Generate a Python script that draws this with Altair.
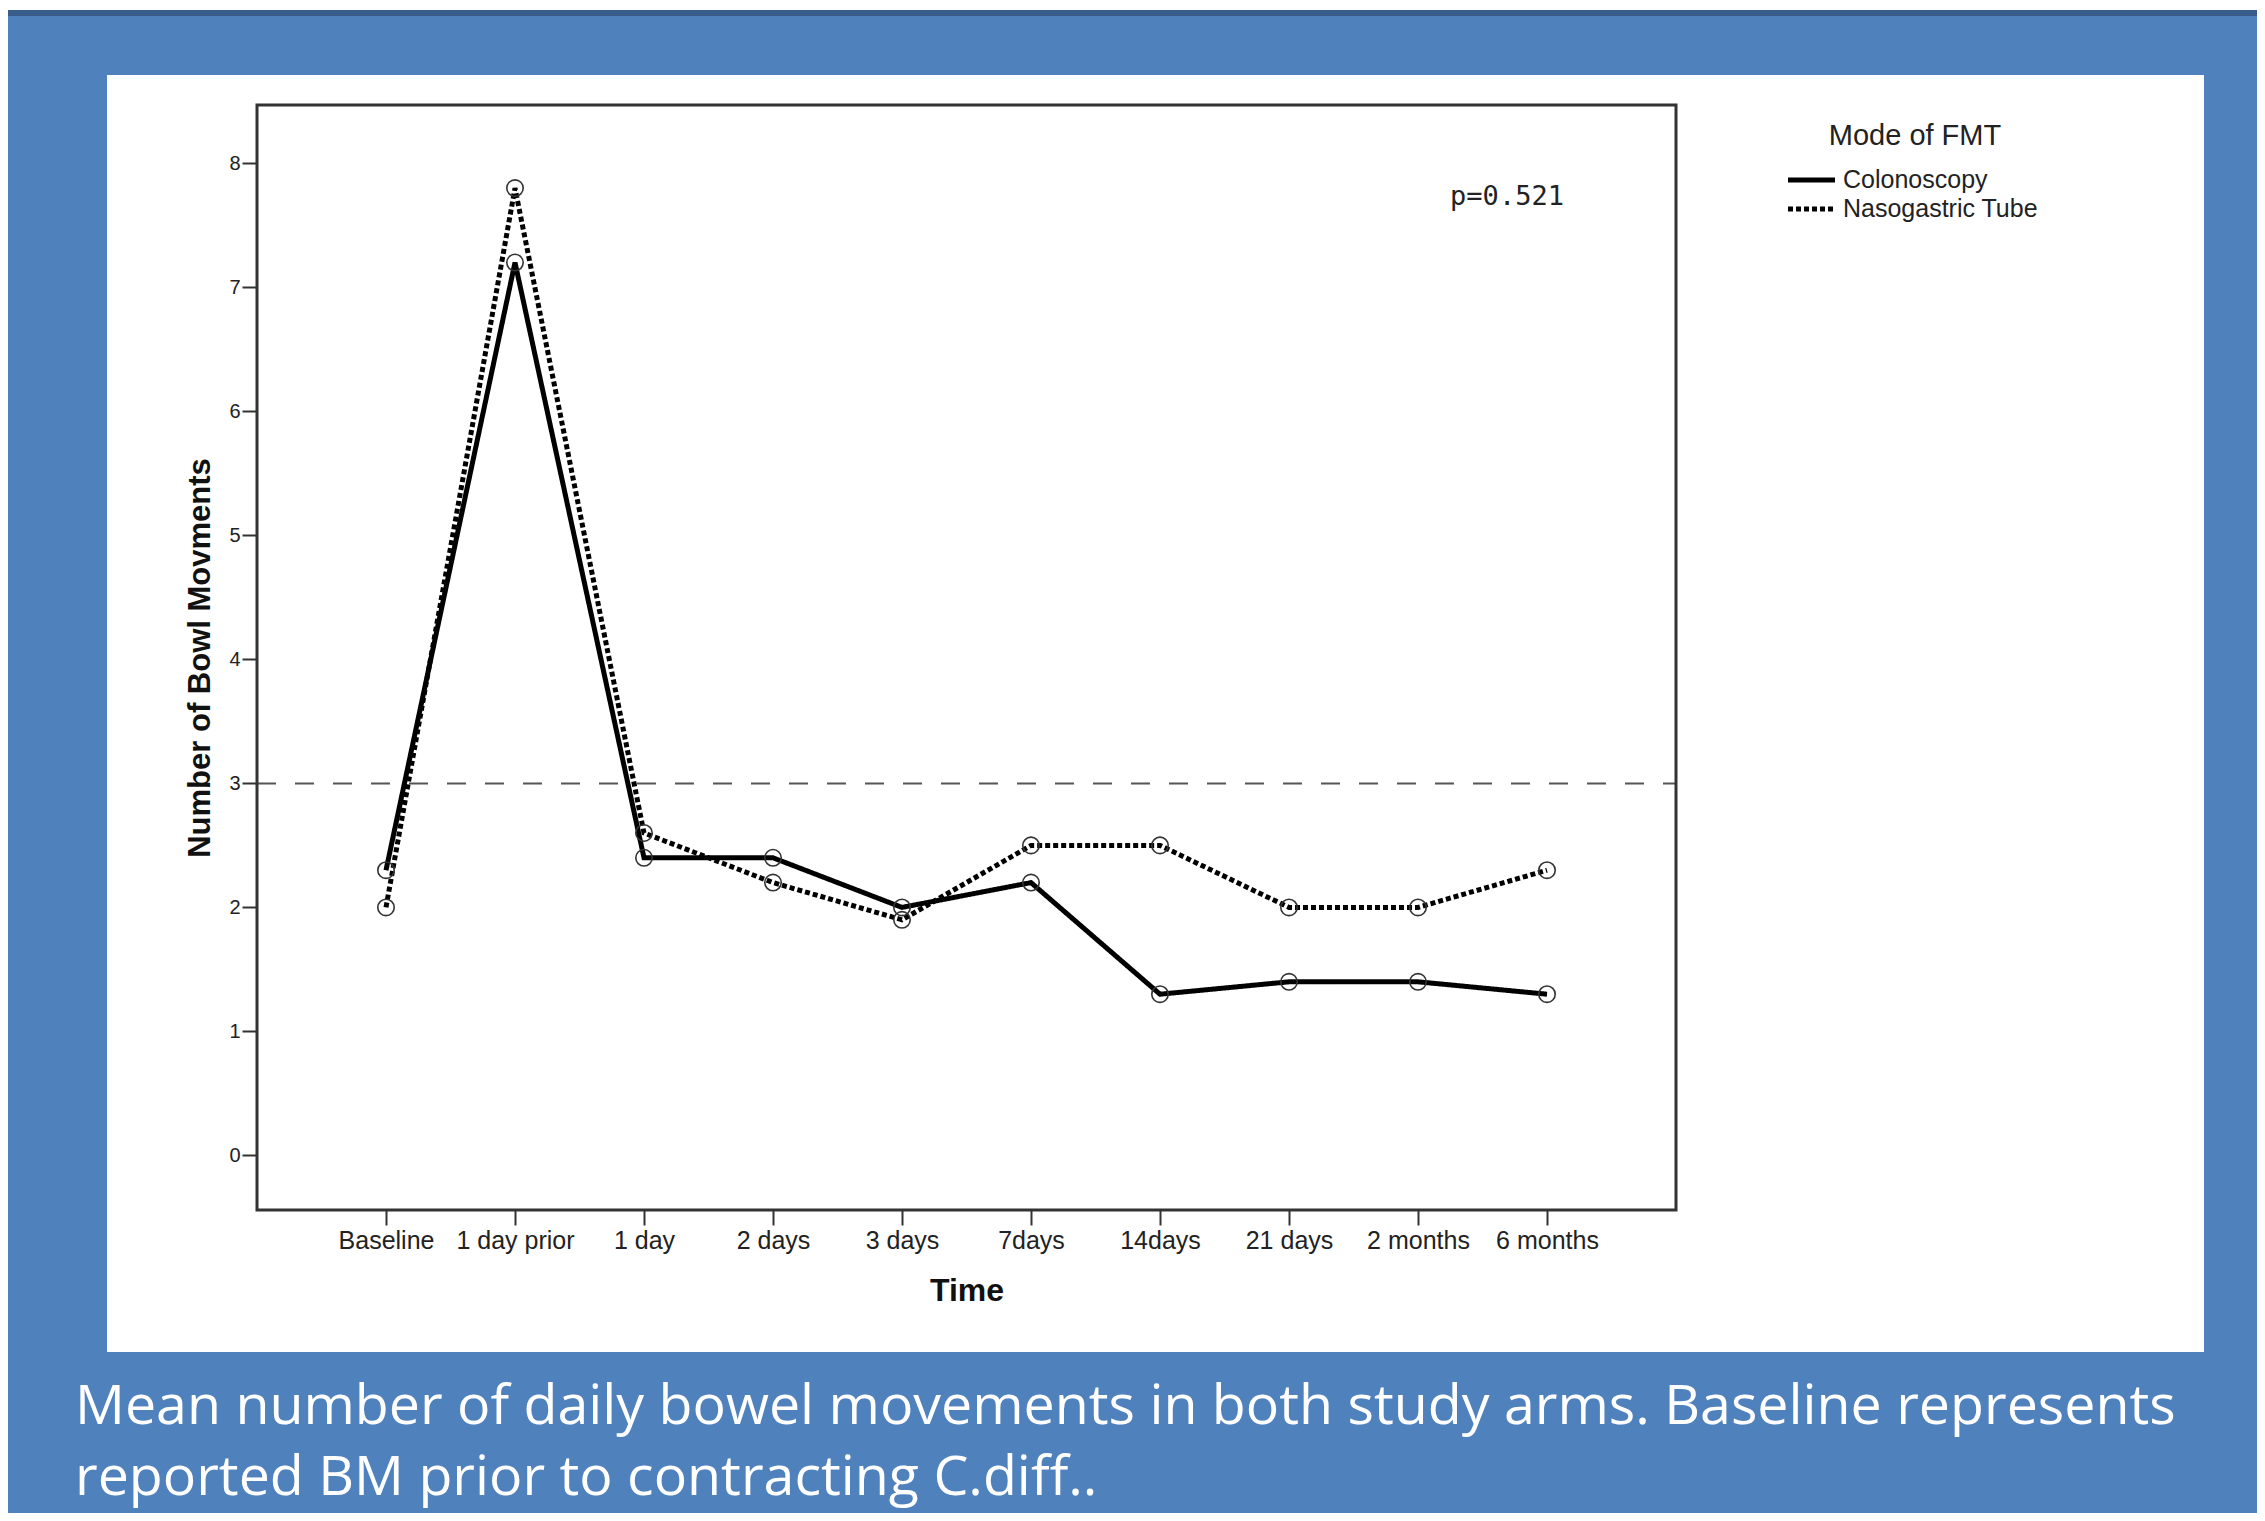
import altair as alt
import pandas as pd

# ---- data ----
times = ["Baseline", "1 day prior", "1 day", "2 days", "3 days", "7days",
         "14days", "21 days", "2 months", "6 months"]
colonoscopy = [2.3, 7.2, 2.4, 2.4, 2.0, 2.2, 1.3, 1.4, 1.4, 1.3]
nasogastric = [2.0, 7.8, 2.6, 2.2, 1.9, 2.5, 2.5, 2.0, 2.0, 2.3]
series_names = ["Colonoscopy", "Nasogastric Tube"]
y_ticks = [0, 1, 2, 3, 4, 5, 6, 7, 8]
threshold = [3]
p_text = "p=0.521"
legend_title = "Mode of FMT"
caption_lines = [
    "Mean number of daily bowel movements in both study arms. Baseline represents",
    "reported BM prior to contracting C.diff..",
]

rows = []
for i, t in enumerate(times):
    rows.append({"time": t, "idx": i, "value": colonoscopy[i], "series": series_names[0]})
    rows.append({"time": t, "idx": i, "value": nasogastric[i], "series": series_names[1]})
df = pd.DataFrame(rows)
one = pd.DataFrame({"k": [0]})

W, H = 1419, 1105
BLUE = "#4F81BD"
FONT = "Liberation Sans"

x_enc = alt.X(
    "time:N", sort=times,
    scale=alt.Scale(type="point", padding=1.05),
    axis=alt.Axis(title="Time", labelAngle=0, domain=False, tickSize=15, tickWidth=2,
                  tickColor="#333", labelFontSize=25, labelColor="#222", labelFont=FONT,
                  labelPadding=3, titleFont=FONT, titleFontSize=32, titleFontWeight="bold",
                  titleColor="#111", titlePadding=22, zindex=1),
)
y_enc = alt.Y(
    "value:Q",
    scale=alt.Scale(domain=[-0.44, 8.47], nice=False, zero=False),
    axis=alt.Axis(values=y_ticks, format="d", grid=False, domain=False, tickSize=15,
                  tickWidth=2, tickColor="#333", labelFontSize=20, labelColor="#222",
                  labelFont=FONT, labelPadding=2, title="Number of Bowl Movments",
                  titleFont=FONT, titleFontSize=31, titleFontWeight="bold",
                  titleColor="#111", titlePadding=12, zindex=1),
)

dash_scale = alt.Scale(domain=series_names, range=[[1, 0], [5, 3]])

# background pieces (white panel, top strip)
top_white = alt.Chart(one).mark_rect(color="white").encode(
    x=alt.value(-249), x2=alt.value(2000), y=alt.value(-97), y2=alt.value(-95))
top_dark = alt.Chart(one).mark_rect(color="#385D8A").encode(
    x=alt.value(-249), x2=alt.value(2000), y=alt.value(-95), y2=alt.value(-89))
panel = alt.Chart(one).mark_rect(color="white").encode(
    x=alt.value(-150), x2=alt.value(1947), y=alt.value(-30), y2=alt.value(1247))
frame = alt.Chart(one).mark_rect(filled=False, stroke="#333", strokeWidth=3).encode(
    x=alt.value(0), x2=alt.value(W), y=alt.value(0), y2=alt.value(H))

ref_rule = alt.Chart(pd.DataFrame({"y": threshold})).mark_rule(
    color="#555", strokeWidth=2, strokeDash=[19, 19]).encode(
    y=alt.Y("y:Q", scale=alt.Scale(domain=[-0.44, 8.47], nice=False, zero=False)),
    x=alt.value(0), x2=alt.value(W))

lines = alt.Chart(df).mark_line(color="black", strokeWidth=5).encode(
    x=x_enc, y=y_enc,
    strokeDash=alt.StrokeDash("series:N", scale=dash_scale, legend=None),
    detail="series:N",
    order="idx:Q",
)
points = alt.Chart(df).mark_point(shape="circle", filled=False, size=270,
                                  color="#333", strokeWidth=1.6, opacity=1).encode(
    x=x_enc, y=y_enc, detail="series:N")

ptext = alt.Chart(one).mark_text(font="DejaVu Sans Mono", fontSize=27, align="center",
                                 baseline="alphabetic", color="#222").encode(
    x=alt.value(1250), y=alt.value(100), text=alt.value(p_text))

# legend (drawn by hand to match the reference layout)
leg_title = alt.Chart(one).mark_text(font=FONT, fontSize=29, align="center",
                                     baseline="alphabetic", color="#222").encode(
    x=alt.value(1658), y=alt.value(40), text=alt.value(legend_title))
leg_layers = []
for i, name in enumerate(series_names):
    yy = 75 + 29 * i
    d = pd.DataFrame({"series": [name]})
    leg_layers.append(
        alt.Chart(d).mark_rule(color="black", strokeWidth=5,
                               strokeDash=[1, 0] if i == 0 else [5, 3]).encode(
            x=alt.value(1531), x2=alt.value(1578), y=alt.value(yy)))
    leg_layers.append(
        alt.Chart(d).mark_text(font=FONT, fontSize=25, align="left", baseline="middle",
                               color="#222").encode(
            x=alt.value(1586), y=alt.value(yy), text="series:N"))

caption = alt.Chart(one).mark_text(font="Open Sans", fontSize=55.5, align="left",
                                   baseline="alphabetic", color="white",
                                   lineHeight=71).encode(
    x=alt.value(-182), y=alt.value(1319), text=alt.value(caption_lines))

chart = alt.layer(
    top_white, top_dark, panel, ref_rule, lines, points, frame, ptext, leg_title,
    *leg_layers, caption
).properties(
    width=W, height=H,
    padding={"left": 249, "top": 97, "right": 581, "bottom": 303},
    autosize=alt.AutoSizeParams(type="none"),
    background=BLUE,
).configure_view(stroke=None)

chart.save("out.html", embed_options={"renderer": "svg", "actions": False})
